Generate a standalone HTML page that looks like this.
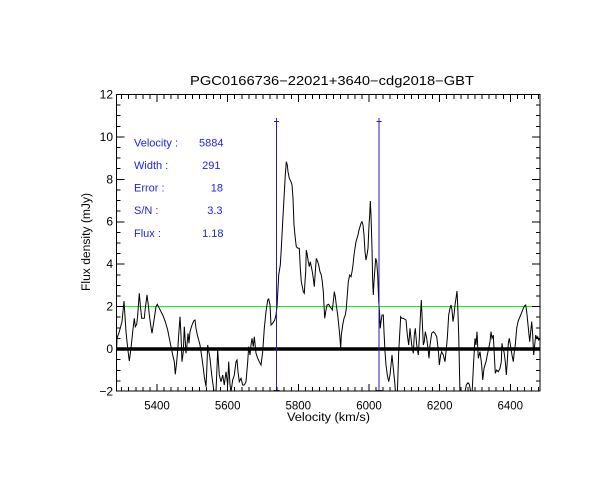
<!DOCTYPE html>
<html><head><meta charset="utf-8"><style>
html,body{margin:0;padding:0;background:#fff;}
svg{display:block;}
text{font-family:"Liberation Sans",sans-serif;}
</style></head><body>
<svg width="612" height="500" viewBox="0 0 612 500" xmlns="http://www.w3.org/2000/svg">
<rect width="612" height="500" fill="#fff"/>
<defs><clipPath id="c"><rect x="116" y="94" width="424" height="297"/></clipPath></defs>
<!-- title -->
<text x="332" y="85" font-size="12.5" text-anchor="middle" textLength="284" lengthAdjust="spacingAndGlyphs">PGC0166736−22021+3640−cdg2018−GBT</text>
<!-- green and zero lines -->
<line x1="116" y1="306.5" x2="540" y2="306.5" stroke="#00ff00" stroke-width="1"/>
<line x1="116" y1="349" x2="540" y2="349" stroke="#000" stroke-width="3.6"/>
<!-- spectrum -->
<g clip-path="url(#c)">
<polyline fill="none" stroke="#000" stroke-width="1" stroke-linejoin="miter" points="116,366.7 117,338.3 119.3,331.7 122,321.7 124,301 126,331.7 127.7,348.3 129.3,361 131,348.3 132.7,331.7 134.3,318.3 135.3,326.7 136.7,324.3 137.7,315 139.3,293.3 140.3,305 141.7,318.3 144.3,318.3 145.3,308.3 147,295 148.3,305 149.3,315 150.7,325 152,333.3 154.3,318.3 156,306.7 157.3,304.3 159.3,308.3 162.7,315 165.3,321.7 167.7,330 169.3,338.3 171,346.7 172.7,355 174.3,361.7 175.3,374.3 176.7,361.7 177.7,350 178.7,335 180,316.7 181,335 182,361.7 183.3,351.7 184.3,326.7 185.3,341.7 186,353.3 187,345 188,333.3 189,343.3 190,331.7 192,325 193.7,321 195,320 196,328.3 197.3,335 198.7,340 200,345 201,351.7 202,358.3 203.3,368.3 204.3,376.7 206,386.7 206.7,371.7 207.7,345 210,358.3 211.7,375 213.3,386.7 214.7,395 216,391.7 217.7,350 219.3,375 221,381.7 222.7,375 224.3,385 226,371.7 227.7,385 228.7,361.7 230,385 231,391.7 232.7,380 234.3,375 236,361.7 237,360 238,371.7 239.3,381.7 241,378.3 242.7,385 244.3,385 246,381.7 247.7,361.7 248.7,346.7 250,355 251,345 252,338.3 253.3,346.7 254.3,336.7 256,353.3 257.7,358.3 259.3,361.7 261,365 262.7,351.7 264.3,328.3 266,311.7 267.7,300 268.7,299 270,305 271,325 272.7,323.3 274.7,320 276,315 277,306.7 278,288.3 278.7,275 280.3,265 281.3,248.3 282.7,221.7 284,198.3 285.3,175 286.3,161.7 287.3,165 288,171.7 289.3,178.3 291,181.7 292,185 293,198.3 294,225 295.3,238.3 296.3,246.7 298,248.3 299.3,248.3 300.3,268.3 301.3,281.7 302.3,286.7 303.3,291.7 304.3,293.3 305,281.7 305.7,271.7 306.3,250 307.3,255 308.3,261.7 309.3,266.7 310.3,261.7 311.3,266.7 312.3,271.7 313.3,278.3 314.3,286.7 315.3,271.7 316.3,258.3 317.7,261.7 318.7,265 320,271.7 321.3,275 322.3,281.7 323.3,291.7 324,305 324.7,318.3 325.7,311.7 327,305 328.7,304.3 330,306.7 331.3,308.3 332.3,310 333.3,301.7 334.3,291.7 335.3,296.7 336.3,305 337.7,315 338.7,325 339.7,335 340.7,348.3 341.3,335 342.7,325 344,318.3 345.3,315 346.3,308.3 347.3,295 348.3,281.7 349.7,275 351,276.7 352,271.7 353,265 354,255 355,248.3 356,241.7 357,238.3 358,235 359,230 360,226.7 361,223.3 362,221.7 363,225 364,235 365,251.7 366,260 367,255 368,248.3 369,225 369.7,215 370.3,201 371,215 372,248.3 372.7,281.7 373.3,295 374,281.7 374.7,271.7 375.7,258.3 376.7,261.7 377.7,275 378.7,301.7 379.3,308.3 380.3,328.3 381,321.7 382,315 383.3,315 384,331.7 385,351.7 386,365 387.3,375 388.7,381.7 390,375 391,365 392,355 393.3,368.3 394.7,381.7 395.7,395 397.3,395 398.7,351.7 400.7,316.7 401.7,318.3 403.3,318.3 406,320 407.3,335 408.7,345 410,328.3 411.7,345 413.3,353.3 414.3,335 415.3,328.3 416.7,345 418.3,355 419.3,338.3 420.3,318.3 421.3,300 422.3,321.7 423.3,345 424.3,341.7 425.3,331.7 426.7,338.3 428,348.3 429,358.3 430,345 431.7,333.3 433.3,331.7 435,333.3 436.7,336.7 437.7,345 438.7,355 439.3,365 440.7,355 441.7,351.7 443.3,355 445,361.7 446,351.7 447.3,338.3 448.7,315 450,308.3 451,305 452,310 453,321.7 454,315 455,305 456,298.3 457,291 457.7,305 458.7,335 459.3,361.7 460,395 464,395 465,391.7 466.3,385 468,382.7 469.3,384.3 470.7,391.7 472,395 473.3,368.3 475,338.3 476,345 477,331.7 478.3,358.3 480,351.7 481.7,365 482.7,380 484,368.3 486,361.7 487.3,355 488.7,348.3 490,341.7 491,331.7 492,338.3 493.3,335 494.3,355 495.3,373.3 496.7,370 498.3,371.7 500,368.3 501.3,361.7 502,343.3 503,350 504,351.7 505.3,361.7 506.3,375 507.3,361.7 508.3,343.3 509.3,338.3 510.7,346.7 512,355 513.3,361.7 514.3,351.7 515.3,345 516.7,328.3 518,321.7 519.3,318.3 520.7,315 522,311.7 523.3,308.3 524.7,305.7 525.7,305 526.7,311.7 527.7,321.7 528.7,331.7 529.7,341.7 530.7,331.7 531.7,321.7 532.7,335 533.7,355 534.7,345 535.7,335 536.7,338.3 537.7,336.7 538.7,340 540,338.3"/>
</g>
<!-- velocity markers -->
<g stroke="#2a1eb0" stroke-width="1" fill="none">
<line x1="276.5" y1="118" x2="276.5" y2="391"/>
<line x1="274" y1="121.5" x2="279" y2="121.5"/>
<line x1="273.5" y1="390.5" x2="279.5" y2="390.5"/>
<line x1="379" y1="118" x2="379" y2="391"/>
<line x1="376.5" y1="121.5" x2="381.5" y2="121.5"/>
<line x1="376" y1="390.5" x2="382" y2="390.5"/>
</g>
<!-- axes box -->
<rect x="116.5" y="94.5" width="423.5" height="296.5" fill="none" stroke="#000" stroke-width="1" shape-rendering="crispEdges"/>
<!-- ticks -->
<g stroke="#000" shape-rendering="crispEdges">
<line x1="121.15" y1="389" x2="540" y2="389" stroke-width="4" stroke-dasharray="1 6.0667"/>
<line x1="156.5" y1="387.5" x2="540" y2="387.5" stroke-width="7" stroke-dasharray="1 69.667"/>
<line x1="121.15" y1="97" x2="540" y2="97" stroke-width="4" stroke-dasharray="1 6.0667"/>
<line x1="156.5" y1="98.5" x2="540" y2="98.5" stroke-width="7" stroke-dasharray="1 69.667"/>
<line x1="118.5" y1="94" x2="118.5" y2="391" stroke-width="4" stroke-dasharray="1 9.607"/>
<line x1="120.5" y1="94" x2="120.5" y2="391" stroke-width="8" stroke-dasharray="1 41.428"/>
<line x1="538" y1="94" x2="538" y2="391" stroke-width="4" stroke-dasharray="1 9.607"/>
<line x1="536" y1="94" x2="536" y2="391" stroke-width="8" stroke-dasharray="1 41.428"/>
</g>
<!-- y tick labels -->
<g font-size="12" text-anchor="end" fill="#000">
<text x="113" y="98.5">12</text>
<text x="113" y="141">10</text>
<text x="113" y="183.5">8</text>
<text x="113" y="225.5">6</text>
<text x="113" y="268">4</text>
<text x="113" y="310.5">2</text>
<text x="113" y="353">0</text>
<text x="113" y="395.5">−2</text>
</g>
<!-- x tick labels -->
<g font-size="11.5" text-anchor="middle" fill="#000">
<text x="157" y="409.5">5400</text>
<text x="227.7" y="409.5">5600</text>
<text x="298.3" y="409.5">5800</text>
<text x="369" y="409.5">6000</text>
<text x="439.7" y="409.5">6200</text>
<text x="510.3" y="409.5">6400</text>
</g>
<text x="328.5" y="421" font-size="11.5" text-anchor="middle" textLength="83" lengthAdjust="spacingAndGlyphs">Velocity (km/s)</text>
<text transform="translate(90,242) rotate(-90)" font-size="11.5" text-anchor="middle" textLength="98" lengthAdjust="spacingAndGlyphs">Flux density (mJy)</text>
<!-- info text -->
<g font-size="11" fill="#2222dd">
<text x="134" y="146.5">Velocity :</text>
<text x="134" y="169">Width :</text>
<text x="134" y="191.5">Error :</text>
<text x="134" y="214">S/N :</text>
<text x="134" y="237">Flux :</text>
</g>
<g font-size="11" fill="#2222dd" text-anchor="end">
<text x="223.5" y="146.5">5884</text>
<text x="220.5" y="169">291</text>
<text x="223" y="191.5">18</text>
<text x="222.5" y="214">3.3</text>
<text x="223.5" y="237">1.18</text>
</g>
</svg>
</body></html>
